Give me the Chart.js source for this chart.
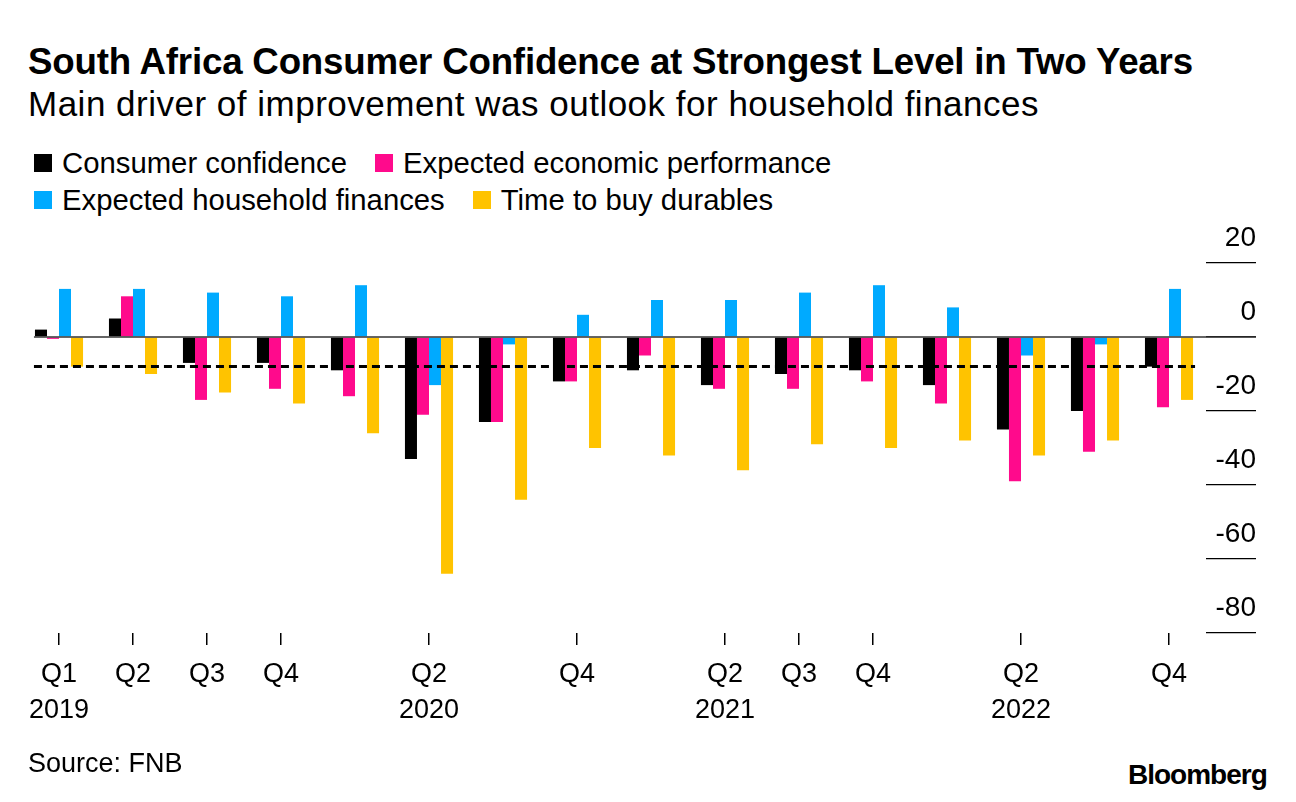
<!DOCTYPE html>
<html>
<head>
<meta charset="utf-8">
<script src="https://cdn.jsdelivr.net/npm/chart.js@4"></script>
<style>
  body { margin: 0; background: #fff; font-family: "Liberation Sans", Arial, Helvetica, sans-serif; color: #000; }
  #page { position: relative; width: 1296px; height: 802px; overflow: hidden; }
  .txt { position: absolute; white-space: nowrap; line-height: 1; }
  #title { left: 28px; top: 44px; font-size: 36.7px; font-weight: bold; letter-spacing: -0.2px; }
  #subtitle { left: 28px; top: 86px; font-size: 35px; letter-spacing: 0.5px; }
  #legend { position: absolute; left: 34px; top: 144px; font-size: 29.3px; }
  .row { height: 37px; display: flex; align-items: center; }
  .item { display: flex; align-items: center; margin-right: 28px; }
  .sw { width: 18px; height: 18px; margin-right: 10px; }
  #source { left: 28px; top: 750px; font-size: 27px; }
  #brand { left: 1128px; top: 761px; font-size: 28px; font-weight: bold; letter-spacing: -1px; }
  #wrap { position: absolute; left: 0; top: 220px; width: 1296px; height: 534px; }
</style>
</head>
<body>
<div id="page">
  <div id="title" class="txt">South Africa Consumer Confidence at Strongest Level in Two Years</div>
  <div id="subtitle" class="txt">Main driver of improvement was outlook for household finances</div>
  <div id="legend"></div>
  <div id="wrap"><canvas id="chart"></canvas></div>
  <div id="source" class="txt">Source: FNB</div>
  <div id="brand" class="txt">Bloomberg</div>
</div>
<script>
// quarterly survey readings, Q1 2019 .. Q4 2022
const quarters = ['Q1 2019', 'Q2 2019', 'Q3 2019', 'Q4 2019', 'Q1 2020', 'Q2 2020', 'Q3 2020', 'Q4 2020',
                  'Q1 2021', 'Q2 2021', 'Q3 2021', 'Q4 2021', 'Q1 2022', 'Q2 2022', 'Q3 2022', 'Q4 2022'];
const tickLabels = [['Q1', '2019'], ['Q2'], ['Q3'], ['Q4'], '', ['Q2', '2020'], '', ['Q4'],
                    '', ['Q2', '2021'], ['Q3'], ['Q4'], '', ['Q2', '2022'], '', ['Q4']];

const consumerConfidence = [2, 5, -7, -7, -9, -33, -23, -12, -9, -13, -10, -9, -13, -25, -20, -8];
const economicPerformance = [-0.5, 11, -17, -14, -16, -21, -23, -12, -5, -14, -14, -12, -18, -39, -31, -19];
const householdFinances = [13, 13, 12, 11, 14, -13, -2, 6, 10, 10, 12, 14, 8, -5, -2, 13];
const durables = [-8, -10, -15, -18, -26, -64, -44, -30, -32, -36, -29, -30, -28, -32, -28, -17];

const currentLevel = -8;   // dashed reference line
const yTicks = [20, 0, -20, -40, -60, -80];

const seriesNames = ['Consumer confidence', 'Expected economic performance', 'Expected household finances', 'Time to buy durables'];
const seriesColors = ['#000000', '#ff0a8c', '#00aaff', '#ffc300'];
const seriesData = [consumerConfidence, economicPerformance, householdFinances, durables];

const FONT = '"Liberation Sans", Arial, Helvetica, sans-serif';

// legend, two per row
const legendEl = document.getElementById('legend');
for (let r = 0; r < 2; r++) {
    const row = document.createElement('div');
    row.className = 'row';
    for (let c = 0; c < 2; c++) {
        const i = r * 2 + c;
        const item = document.createElement('div');
        item.className = 'item';
        item.innerHTML = '<span class="sw" style="background:' + seriesColors[i] + '"></span>' + seriesNames[i];
        row.appendChild(item);
    }
    legendEl.appendChild(row);
}

// zero line across the plot and the dashed "current level" line
const refLines = {
    id: 'refLines',
    afterDatasetsDraw(chart) {
        const x = chart.scales.x, y = chart.scales.y;
        const ctx = chart.ctx;
        const half = x.width / quarters.length * 0.65 / 2;
        const x0 = x.getPixelForValue(0) - half - 1;
        const x1 = x.getPixelForValue(quarters.length - 1) + half + 2;
        ctx.save();
        ctx.strokeStyle = '#333';
        ctx.lineWidth = 1.5;
        ctx.beginPath();
        ctx.moveTo(x0, y.getPixelForValue(0));
        ctx.lineTo(y.right, y.getPixelForValue(0));
        ctx.stroke();
        ctx.strokeStyle = '#000';
        ctx.lineWidth = 3;
        ctx.setLineDash([8, 5]);
        ctx.beginPath();
        ctx.moveTo(x0, y.getPixelForValue(currentLevel));
        ctx.lineTo(x1, y.getPixelForValue(currentLevel));
        ctx.stroke();
        ctx.restore();
    }
};

new Chart(document.getElementById('chart'), {
    type: 'bar',
    data: {
        labels: quarters,
        datasets: seriesNames.map((name, i) => ({
            label: name,
            data: seriesData[i],
            backgroundColor: seriesColors[i],
            borderWidth: 0,
            categoryPercentage: 0.65,
            barPercentage: 1.0
        }))
    },
    options: {
        responsive: true,
        maintainAspectRatio: false,
        animation: false,
        layout: { padding: { left: 22, right: 40, top: 43, bottom: 13 } },
        plugins: { legend: { display: false }, tooltip: { enabled: false } },
        scales: {
            x: {
                grid: {
                    drawOnChartArea: false,
                    offset: false,
                    tickLength: 12,
                    lineWidth: 1.5,
                    color: ctx => tickLabels[ctx.index] ? '#000' : 'rgba(0,0,0,0)'
                },
                border: { display: false },
                ticks: {
                    autoSkip: false,
                    maxRotation: 0,
                    padding: 12,
                    color: '#000',
                    font: { family: FONT, size: 27, lineHeight: 1.333 },
                    callback: (v, i) => tickLabels[i]
                }
            },
            y: {
                position: 'right',
                min: -80,
                max: 20,
                afterBuildTicks: s => { s.ticks = yTicks.map(v => ({ value: v })); },
                afterFit: s => { s.width = 50; },
                grid: { drawOnChartArea: false, tickLength: 50, lineWidth: 1.3, color: '#000' },
                border: { display: false },
                ticks: {
                    crossAlign: 'far',
                    labelOffset: -25,
                    color: '#000',
                    font: { family: FONT, size: 28 }
                }
            }
        }
    },
    plugins: [refLines]
});
</script>
</body>
</html>
